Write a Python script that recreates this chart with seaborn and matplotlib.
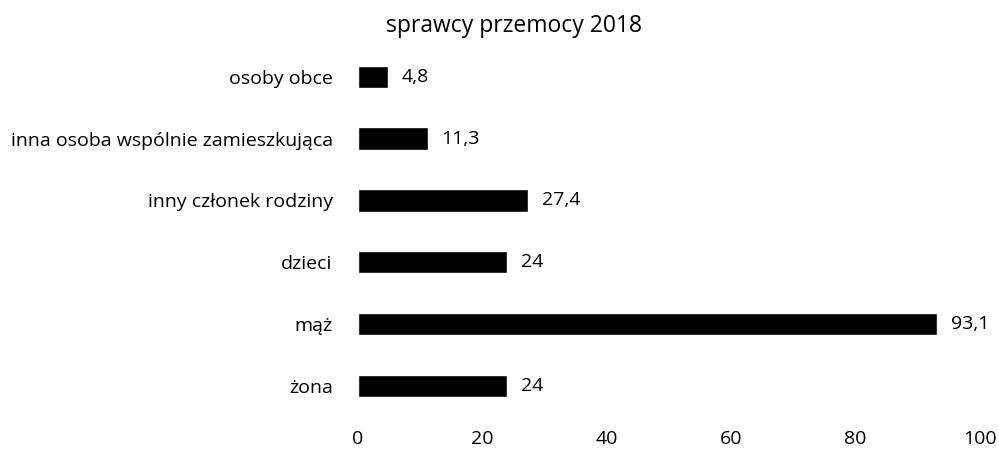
import matplotlib
matplotlib.use("Agg")
import matplotlib.pyplot as plt
import seaborn as sns
import pandas as pd

categories = ["osoby obce", "inna osoba wspólnie zamieszkująca", "inny członek rodziny",
              "dzieci", "mąż", "żona"]
values = [4.8, 11.3, 27.4, 24, 93.1, 24]
value_labels = ["4,8", "11,3", "27,4", "24", "93,1", "24"]
x_ticks = [0, 20, 40, 60, 80, 100]

sns.set_style("white")
plt.rcParams["font.family"] = ["Open Sans", "DejaVu Sans"]
plt.rcParams["text.color"] = "black"
plt.rcParams["xtick.color"] = "black"
plt.rcParams["ytick.color"] = "black"

df = pd.DataFrame({"kategoria": categories, "wartosc": values})

fig = plt.figure(figsize=(9.99, 4.5), dpi=100)
ax = fig.add_axes([0.358, 0.0733, 0.623, 0.825])

sns.barplot(data=df, y="kategoria", x="wartosc", color="black", width=0.36,
            orient="h", ax=ax, saturation=1)

for i, (v, lab) in enumerate(zip(values, value_labels)):
    ax.text(v + 2.2, i, lab, va="center", ha="left", fontsize=14)

ax.set_xlim(0, 100)
ax.set_ylim(5.5, -0.5)
ax.set_xticks(x_ticks)
ax.set_xticklabels([str(t) for t in x_ticks])
ax.tick_params(axis="y", length=0, pad=18, labelsize=14)
ax.tick_params(axis="x", length=0, pad=9, labelsize=14)
ax.set_xlabel("")
ax.set_ylabel("")
sns.despine(ax=ax, left=True, bottom=True)
fig.suptitle("sprawcy przemocy 2018", x=0.515, y=0.97, fontsize=16.5)

fig.savefig("out.png", dpi=100)
